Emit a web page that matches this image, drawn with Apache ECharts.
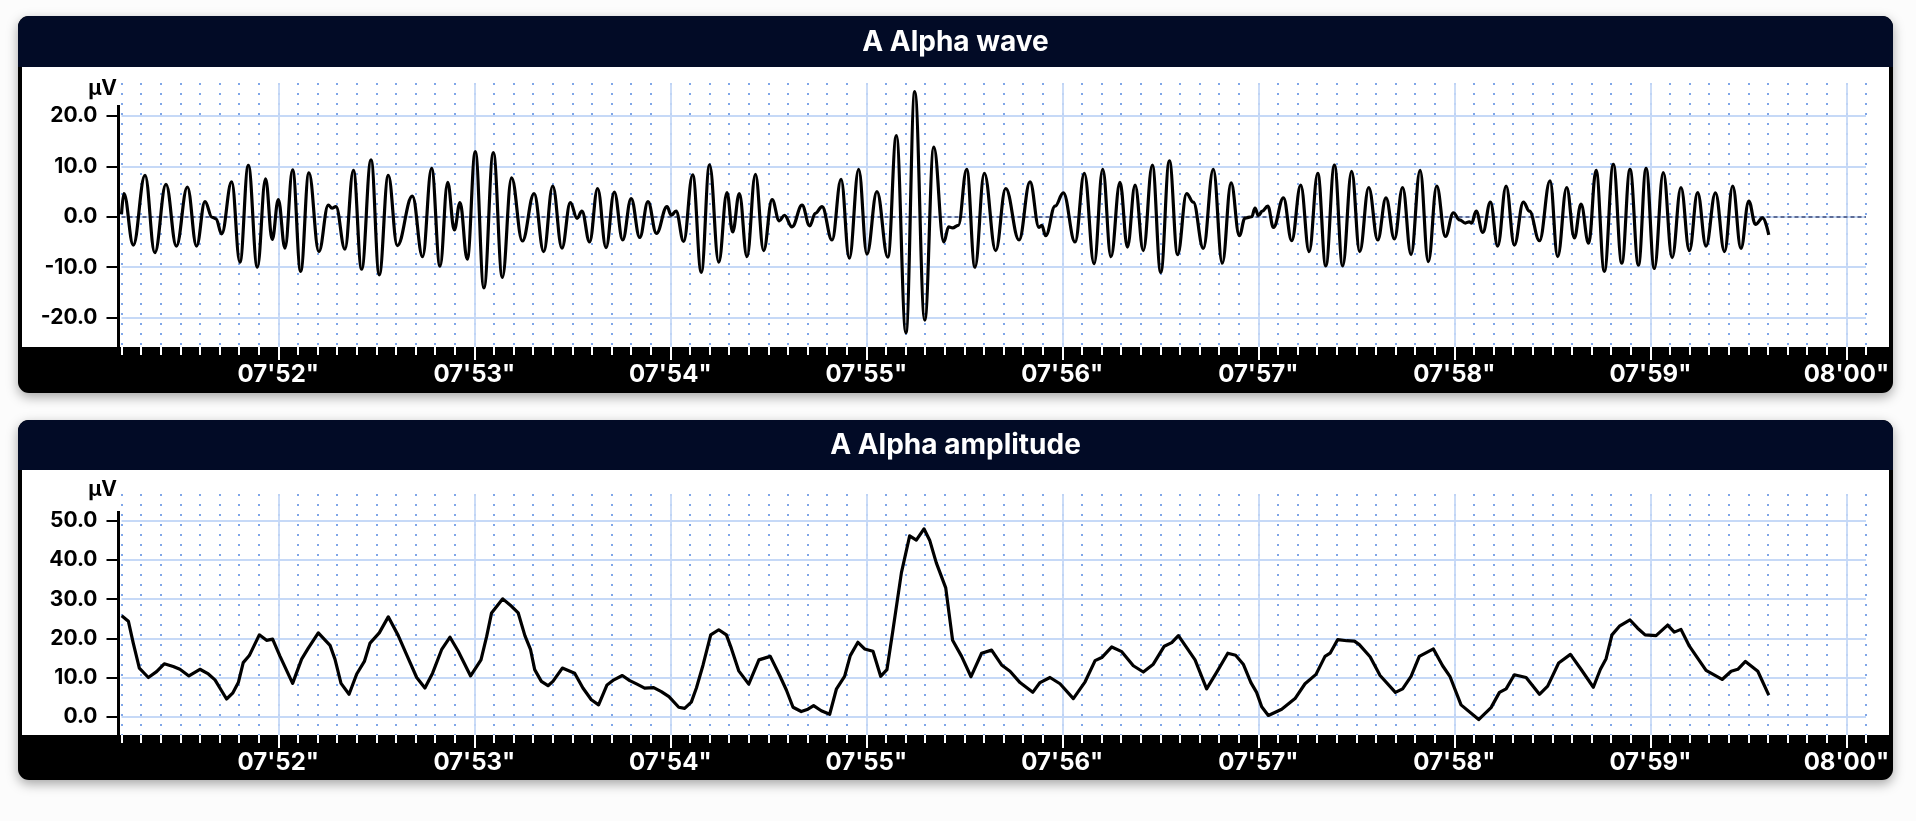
<!DOCTYPE html>
<html>
<head>
<meta charset="utf-8">
<script src="https://cdn.jsdelivr.net/npm/echarts@6/dist/echarts.min.js"></script>
<style>
html,body{margin:0;padding:0;background:#fcfcfc;}
#c{width:1916px;height:821px;}
</style>
</head>
<body>
<div id="c"></div>
<script>
// ---- data ----
const secondTicks = [52, 53, 54, 55, 56, 57, 58, 59, 60];
const secondLabels = ["07'52\"", "07'53\"", "07'54\"", "07'55\"", "07'56\"", "07'57\"", "07'58\"", "07'59\"", "08'00\""];
const waveYTicks = [-20, -10, 0, 10, 20];
const ampYTicks = [0, 10, 20, 30, 40, 50];
const titles = ["A Alpha wave", "A Alpha amplitude"];
const unitLabel = "μV";

// A Alpha wave: [seconds, µV] at turning points
const waveData = [
 [51.2,0.5],[51.212,4.6],[51.26,-5.6],[51.32,8.2],[51.37,-7.1],[51.427,6.4],[51.48,-5.8],[51.536,5.9],
 [51.583,-5.8],[51.626,3.0],[51.662,-0.1],[51.682,-0.4],[51.711,-3.4],[51.762,6.9],[51.804,-9.0],
 [51.847,10.2],[51.893,-10.0],[51.935,7.5],[51.969,-4.5],[52.0,3.4],[52.034,-6.2],[52.073,9.3],
 [52.114,-10.8],[52.156,8.7],[52.207,-6.9],[52.255,2.3],[52.274,1.7],[52.294,2.0],[52.34,-6.4],
 [52.383,9.2],[52.425,-10.4],[52.473,11.3],[52.515,-11.5],[52.561,8.2],[52.607,-5.7],[52.684,4.1],
 [52.736,-7.9],[52.782,9.6],[52.825,-9.8],[52.864,6.8],[52.898,-2.6],[52.927,2.8],[52.964,-8.4],
 [53.005,12.9],[53.049,-14.1],[53.097,12.7],[53.143,-12.0],[53.19,7.7],[53.245,-4.8],[53.305,4.6],
 [53.354,-6.9],[53.4,6.1],[53.447,-6.2],[53.49,2.8],[53.524,-0.3],[53.549,1.1],[53.588,-5.0],
 [53.629,5.6],[53.672,-6.1],[53.714,4.9],[53.757,-4.6],[53.8,3.6],[53.844,-4.1],[53.886,3.0],
 [53.929,-3.3],[53.983,2.0],[54.005,0.3],[54.029,1.1],[54.068,-4.9],[54.114,8.3],[54.158,-11.0],
 [54.2,10.3],[54.247,-9.0],[54.289,4.8],[54.318,-3.0],[54.352,4.6],[54.391,-7.9],[54.434,8.4],
 [54.476,-6.7],[54.519,3.4],[54.556,-0.8],[54.582,0.3],[54.621,-2.0],[54.672,2.3],[54.711,-1.8],
 [54.74,0.7],[54.774,2.0],[54.825,-4.6],[54.871,7.4],[54.913,-8.2],[54.961,9.4],[55.003,-7.4],
 [55.054,5.0],[55.11,-8.0],[55.153,16.1],[55.202,-23.0],[55.247,24.8],[55.298,-20.5],[55.344,13.8],
 [55.395,-5.0],[55.42,-2.0],[55.44,-2.2],[55.469,-1.7],[55.512,9.4],[55.554,-10.0],[55.602,8.6],
 [55.66,-6.7],[55.711,5.6],[55.779,-4.6],[55.835,6.9],[55.881,-2.1],[55.895,-1.7],[55.915,-3.75],
 [55.963,2.1],[56.005,4.75],[56.065,-5.0],[56.112,8.6],[56.162,-9.3],[56.206,9.4],[56.248,-7.9],
 [56.294,6.8],[56.332,-6.0],[56.371,6.25],[56.413,-6.7],[56.459,10.25],[56.502,-11.0],[56.546,11.1],
 [56.588,-7.5],[56.634,4.6],[56.668,2.9],[56.719,-6.25],[56.77,9.4],[56.816,-9.2],[56.861,6.7],
 [56.903,-3.75],[56.932,-0.25],[56.966,0.0],[56.983,1.7],[57.0,0.25],[57.02,1.1],[57.048,2.1],
 [57.077,-2.1],[57.128,3.75],[57.17,-4.75],[57.216,6.25],[57.259,-6.9],[57.303,8.6],[57.344,-9.75],
 [57.388,10.25],[57.43,-9.75],[57.476,9.0],[57.517,-6.9],[57.563,5.8],[57.609,-4.6],[57.651,3.75],
 [57.694,-4.4],[57.736,5.8],[57.779,-7.5],[57.825,9.2],[57.867,-8.9],[57.91,6.1],[57.954,-3.9],
 [57.995,0.8],[58.026,-0.6],[58.056,-1.25],[58.076,-1.0],[58.088,-1.25],[58.111,1.1],[58.145,-3.1],
 [58.184,2.9],[58.221,-5.8],[58.264,6.1],[58.306,-5.6],[58.352,2.9],[58.383,1.1],[58.434,-4.75],
 [58.488,7.1],[58.527,-7.9],[58.573,5.8],[58.612,-4.2],[58.646,2.5],[58.685,-5.25],[58.723,9.2],
 [58.765,-10.8],[58.811,10.4],[58.854,-9.2],[58.896,9.4],[58.939,-9.6],[58.978,9.6],[59.02,-10.25],
 [59.066,8.75],[59.111,-8.1],[59.156,5.8],[59.199,-6.7],[59.241,4.8],[59.284,-5.8],[59.332,4.75],
 [59.378,-6.9],[59.42,6.1],[59.462,-6.25],[59.502,3.1],[59.536,-1.5],[59.573,-0.2],[59.604,-3.6]
];

// A Alpha amplitude: [seconds, µV]
const ampData = [
 [51.201,25.8],[51.235,24.4],[51.26,18.8],[51.291,12.4],[51.337,10.0],[51.379,11.5],[51.418,13.5],
 [51.464,12.8],[51.498,12.1],[51.544,10.4],[51.6,12.1],[51.643,10.9],[51.677,9.4],[51.702,7.3],
 [51.736,4.5],[51.767,6.0],[51.796,8.7],[51.821,13.8],[51.852,15.6],[51.903,20.9],[51.94,19.5],
 [51.971,19.8],[52.009,15.4],[52.073,8.5],[52.119,14.7],[52.153,17.5],[52.204,21.4],[52.264,18.2],
 [52.289,14.7],[52.32,8.5],[52.361,5.7],[52.4,10.9],[52.439,14.1],[52.468,18.8],[52.515,21.4],
 [52.561,25.5],[52.612,20.7],[52.655,15.8],[52.706,10.0],[52.748,7.3],[52.787,11.1],[52.833,17.1],
 [52.876,20.3],[52.918,16.7],[52.981,10.4],[53.034,14.5],[53.063,20.5],[53.088,26.5],[53.145,30.1],
 [53.19,28.2],[53.224,26.5],[53.258,20.7],[53.287,17.1],[53.308,12.0],[53.342,9.0],[53.376,7.9],
 [53.401,9.0],[53.449,12.4],[53.512,11.1],[53.554,7.3],[53.597,4.3],[53.634,3.0],[53.677,8.1],
 [53.712,9.4],[53.755,10.5],[53.793,9.2],[53.83,8.3],[53.869,7.3],[53.915,7.4],[53.954,6.4],
 [53.993,5.1],[54.043,2.4],[54.073,2.1],[54.107,3.7],[54.133,7.3],[54.167,13.2],[54.206,20.9],
 [54.247,22.2],[54.286,20.9],[54.311,17.5],[54.349,11.7],[54.4,8.3],[54.452,14.5],[54.51,15.4],
 [54.558,10.5],[54.592,6.8],[54.626,2.4],[54.668,1.3],[54.702,1.9],[54.731,2.8],[54.77,1.5],
 [54.813,0.6],[54.847,7.0],[54.889,10.3],[54.918,15.6],[54.957,19.0],[54.991,17.3],[55.034,16.7],
 [55.073,10.3],[55.105,12.0],[55.136,22.2],[55.179,36.8],[55.221,46.2],[55.255,45.1],[55.294,48.0],
 [55.323,45.1],[55.357,39.3],[55.405,32.9],[55.44,19.5],[55.486,15.4],[55.534,10.2],[55.588,16.2],
 [55.639,17.0],[55.69,13.2],[55.733,11.6],[55.784,8.7],[55.849,6.2],[55.886,8.7],[55.937,10.0],
 [55.988,8.4],[56.056,4.6],[56.116,8.9],[56.167,14.3],[56.201,15.1],[56.252,17.8],[56.303,16.6],
 [56.362,13.0],[56.413,11.4],[56.464,13.4],[56.52,18.0],[56.558,18.9],[56.592,20.7],[56.629,18.0],
 [56.677,14.5],[56.736,7.1],[56.787,11.3],[56.844,16.2],[56.884,15.7],[56.923,13.4],[56.962,8.7],
 [56.991,6.2],[57.017,2.5],[57.051,0.3],[57.119,1.9],[57.187,4.6],[57.238,8.4],[57.294,10.8],
 [57.34,15.4],[57.366,16.2],[57.405,19.7],[57.451,19.4],[57.49,19.3],[57.515,18.4],[57.57,15.3],
 [57.621,10.5],[57.699,6.2],[57.736,7.1],[57.779,10.3],[57.821,15.4],[57.893,17.3],[57.94,13.0],
 [57.978,10.2],[58.034,3.0],[58.124,-0.75],[58.187,2.3],[58.23,6.2],[58.264,7.1],[58.306,10.7],
 [58.366,10.0],[58.434,5.7],[58.476,7.8],[58.532,13.7],[58.592,15.9],[58.646,12.1],[58.709,7.5],
 [58.745,12.1],[58.774,14.8],[58.804,20.9],[58.842,23.1],[58.896,24.7],[58.935,22.6],[58.973,20.9],
 [59.029,20.7],[59.088,23.4],[59.122,21.6],[59.156,22.3],[59.199,18.0],[59.284,11.8],[59.366,9.5],
 [59.412,11.6],[59.446,12.1],[59.485,14.1],[59.548,11.6],[59.604,5.5]
];

// ---- layout / style ----
const FONT = 'Inter, "Liberation Sans", Arial, sans-serif';
const X_MIN = 51.2, X_MAX = 60.1;
const PLOT_L = 121.5, PLOT_W = 1744.5;
const panels = [
  {top: 16, bottom: 393, titleBottom: 67, plotBottom: 347, gridTop: 83, axisTop: 105, unitY: 89, yMin: -25.8, yMax: 26.5},
  {top: 420, bottom: 780, titleBottom: 470, plotBottom: 735, gridTop: 494, axisTop: 511, unitY: 490, yMin: -4.7, yMax: 56.9}
];
const NAVY = '#020b26';
const MAJOR_GRID = '#c6d9f7';
const MINOR_GRID = '#7fa6e8';

const graphics = [];
panels.forEach((p, i) => {
  graphics.push({type: 'rect', z: -20, shape: {x: 18, y: p.top, width: 1875, height: p.bottom - p.top, r: 11},
    style: {fill: '#000', shadowBlur: 12, shadowOffsetY: 4, shadowColor: 'rgba(0,0,0,0.35)'}});
  graphics.push({type: 'rect', z: -19, shape: {x: 18, y: p.top, width: 1875, height: p.titleBottom - p.top, r: [11, 11, 0, 0]},
    style: {fill: NAVY}});
  graphics.push({type: 'rect', z: -19, shape: {x: 22, y: p.titleBottom, width: 1867, height: p.plotBottom - p.titleBottom},
    style: {fill: '#ffffff'}});
  graphics.push({type: 'text', z: 100, x: 955.5, y: (p.top + p.titleBottom) / 2 + 1,
    style: {text: titles[i], fill: '#ffffff', font: 'bold 28px ' + FONT, textAlign: 'center', textVerticalAlign: 'middle'}});
  graphics.push({type: 'text', z: 100, x: 117, y: p.unitY,
    style: {text: unitLabel, fill: '#000', font: 'bold 21px ' + FONT, textAlign: 'right', textVerticalAlign: 'middle'}});
  graphics.push({type: 'line', z: 100, shape: {x1: 118.5, y1: p.axisTop, x2: 118.5, y2: p.plotBottom},
    style: {stroke: '#000', lineWidth: 3}});
});

function secondLabel(v) {
  const i = secondTicks.indexOf(Math.round(v));
  return i >= 0 ? secondLabels[i] : '';
}

const grids = panels.map(p => ({left: PLOT_L, width: PLOT_W, top: p.gridTop, height: p.plotBottom - p.gridTop}));

const xAxes = [];
panels.forEach((p, gi) => {
  xAxes.push({
    type: 'value', gridIndex: gi, position: 'bottom', min: X_MIN, max: X_MAX, interval: 0.1,
    axisLine: {show: true, onZero: false, lineStyle: {color: '#000', width: 1}},
    axisTick: {show: true, inside: false, length: 8, lineStyle: {color: '#ffffff', width: 2}},
    axisLabel: {show: false},
    splitLine: {show: true, lineStyle: {color: MINOR_GRID, width: 2, type: [2, 8]}},
    z: 3
  });
  xAxes.push({
    type: 'value', gridIndex: gi, position: 'bottom', min: X_MIN, max: X_MAX,
    axisLine: {show: true, onZero: false, lineStyle: {color: '#000', width: 1}},
    axisTick: {show: true, inside: false, length: 13, customValues: secondTicks, lineStyle: {color: '#ffffff', width: 2}},
    axisLabel: {show: true, customValues: secondTicks, formatter: secondLabel, color: '#fff',
      fontFamily: FONT, fontWeight: 'bold', fontSize: 24, margin: 16},
    splitLine: {show: true, lineStyle: {color: MAJOR_GRID, width: 1.8}},
    z: 3
  });
});

const yTickSets = [waveYTicks, ampYTicks];
const yAxes = panels.map((p, gi) => ({
  type: 'value', gridIndex: gi, position: 'left', offset: 3, min: p.yMin, max: p.yMax,
  axisLine: {show: false, onZero: false},
  axisTick: {show: true, length: 12, customValues: yTickSets[gi], lineStyle: {color: '#000', width: 2}},
  axisLabel: {show: true, customValues: yTickSets[gi], formatter: v => v.toFixed(1), color: '#000',
    fontFamily: FONT, fontWeight: 'bold', fontSize: 21, margin: 21},
  splitLine: {show: true, lineStyle: {color: MAJOR_GRID, width: 1.8}}
}));

const chart = echarts.init(document.getElementById('c'), null, {renderer: 'canvas'});
chart.setOption({
  animation: false,
  backgroundColor: '#fcfcfc',
  graphic: graphics,
  grid: grids,
  xAxis: xAxes,
  yAxis: yAxes,
  series: [
    {
      name: titles[0], type: 'line', xAxisIndex: 1, yAxisIndex: 0, data: waveData,
      showSymbol: false, smooth: 0.4, smoothMonotone: 'x', z: 5,
      lineStyle: {color: '#000', width: 3.2},
      markLine: {
        silent: true, symbol: ['none', 'none'], label: {show: false},
        lineStyle: {color: '#3c4876', type: [4, 3], width: 1.5},
        data: [{yAxis: 0}]
      }
    },
    {
      name: titles[1], type: 'line', xAxisIndex: 3, yAxisIndex: 1, data: ampData,
      showSymbol: false, smooth: false, z: 5,
      lineStyle: {color: '#000', width: 3.2, join: 'round'}
    }
  ]
});
</script>
</body>
</html>
